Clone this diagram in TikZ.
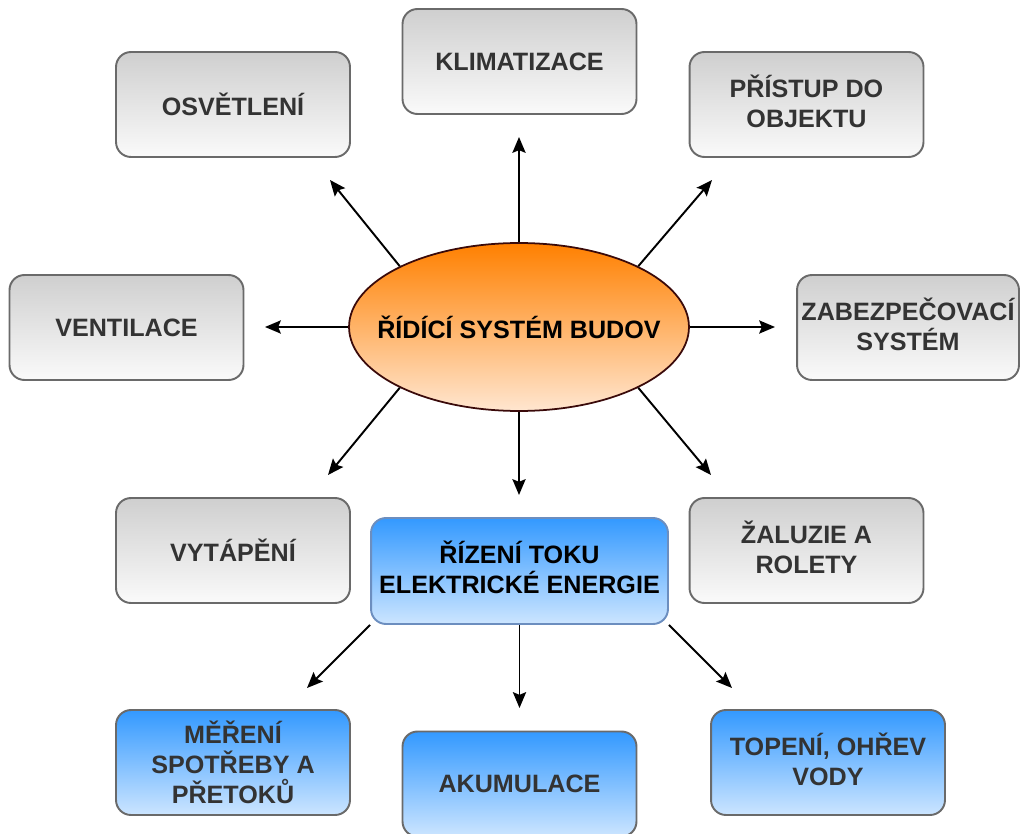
\documentclass[tikz,border=0pt]{standalone}
\usepackage{fontspec}
\setmainfont{Liberation Sans}
\usetikzlibrary{arrows.meta,shapes.geometric}

\definecolor{boxline}{HTML}{6A6A6A}
\definecolor{boxtext}{HTML}{333333}
\definecolor{graytop}{HTML}{CFCFCF}
\definecolor{graybot}{HTML}{FAFAFA}
\definecolor{bluetop}{HTML}{3399FF}
\definecolor{bluebot}{HTML}{CCE5FF}
\definecolor{blueline}{HTML}{6C8EBF}
\definecolor{orangetop}{HTML}{FF8000}
\definecolor{orangebot}{HTML}{FFE6D0}
\definecolor{ellline}{HTML}{3A0A0A}

\begin{document}
\begin{tikzpicture}[x=0.02cm, y=-0.02cm,
  box/.style={draw=boxline, line width=1.1pt, rounded corners=8.5pt, top color=graytop, bottom color=graybot,
    minimum width=4.68cm, minimum height=2.1cm, align=center, text=boxtext,
    font=\fontsize{14.3}{17}\selectfont\bfseries},
  bluebox/.style={box, top color=bluetop, bottom color=bluebot},
  twoline/.style={text depth=4pt},
  arrow/.style={-{Stealth[length=9pt, width=7.5pt, inset=1.5pt]}, line width=1.1pt}
]
\useasboundingbox (0,0) rectangle (1020,834);

% centre
\node[ellipse, draw=ellline, line width=1pt, top color=orangetop, bottom color=orangebot,
  minimum width=6.8cm, minimum height=3.36cm, inner sep=0pt,
  font=\fontsize{14.3}{17}\selectfont\bfseries] (sys) at (519,327) {\makebox[0pt]{ŘÍDÍCÍ SYSTÉM BUDOV}};

% systems round the centre
\node[box] (osv) at (233,104.5) {OSVĚTLENÍ};
\node[box] (klim) at (519.5,61.5) {KLIMATIZACE};
\node[box, twoline] (pristup) at (806.5,104.5) {PŘÍSTUP DO\\OBJEKTU};
\node[box] (vent) at (126.5,327.5) {VENTILACE};
\node[box, twoline, minimum width=4.44cm, inner xsep=0pt] (zab) at (908,327.5) {ZABEZPEČOVACÍ\\SYSTÉM};
\node[box] (vyt) at (233,550.5) {VYTÁPĚNÍ};
\node[box, twoline] (zal) at (806.5,550.5) {ŽALUZIE A\\ROLETY};

% electric energy
\node[bluebox, twoline, draw=blueline, text=black, minimum width=5.94cm, minimum height=2.12cm] (riz) at (519.5,571) {ŘÍZENÍ TOKU\\ELEKTRICKÉ ENERGIE};
\node[bluebox] (mer) at (233,762.5) {MĚŘENÍ\\SPOTŘEBY A\\PŘETOKŮ};
\node[bluebox] (aku) at (519.5,784) {AKUMULACE};
\node[bluebox, twoline] (top) at (828,762.5) {TOPENÍ, OHŘEV\\VODY};

% arrow ends
\coordinate (eosv) at (330,180);
\coordinate (eklim) at (519,137);
\coordinate (epristup) at (712,180);
\coordinate (event) at (265,327);
\coordinate (ezab) at (775,327);
\coordinate (evyt) at (328,475);
\coordinate (eriz) at (519,495);
\coordinate (ezal) at (711,475);
\coordinate (emer) at (307,688);
\coordinate (eaku) at (519.5,708);
\coordinate (etop) at (732,688);

\draw[arrow] (sys.153) -- (eosv);
\draw[arrow] (sys.north) -- (eklim);
\draw[arrow] (sys.27) -- (epristup);
\draw[arrow] (sys.west) -- (event);
\draw[arrow] (sys.east) -- (ezab);
\draw[arrow] (sys.207) -- (evyt);
\draw[arrow] (sys.south) -- (eriz);
\draw[arrow] (sys.333) -- (ezal);
\draw[arrow] (riz.south west) -- (emer);
\draw[arrow] (riz.south) -- (eaku);
\draw[arrow] (riz.south east) -- (etop);
\end{tikzpicture}
\end{document}
